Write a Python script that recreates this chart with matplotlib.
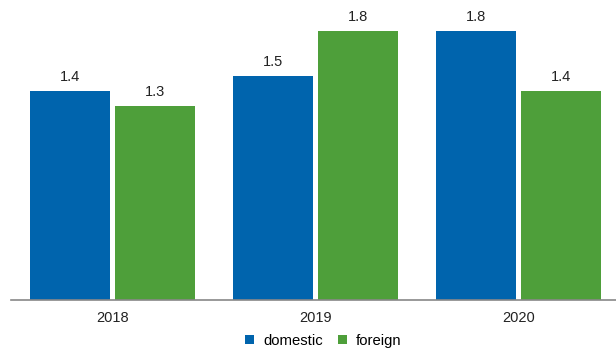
import matplotlib
matplotlib.use("Agg")
import matplotlib.pyplot as plt
import numpy as np

categories = ["2018", "2019", "2020"]
domestic = [1.4, 1.5, 1.8]
foreign = [1.3, 1.8, 1.4]

plt.rcParams['font.family'] = ['Liberation Sans', 'DejaVu Sans']

fig = plt.figure(figsize=(6.16, 3.49), dpi=100)
ax = fig.add_axes([11/616, 1 - 299.5/349, 609/616, 299.5/349])

x = np.arange(len(categories))
w = 0.394
off = 0.21
c_dom = "#0064AD"
c_for = "#4E9F3A"
b1 = ax.bar(x - off, domestic, w, color=c_dom, label="domestic")
b2 = ax.bar(x + off, foreign, w, color=c_for, label="foreign")
for bars, vals in ((b1, domestic), (b2, foreign)):
    for b, v in zip(bars, vals):
        ax.annotate(f"{v}", (b.get_x() + b.get_width()/2, v), xytext=(0, 5),
                    textcoords="offset points", ha="center", va="bottom",
                    fontsize=10.5, color="#222222")

ax.set_xlim(-0.5, 2.5)
ax.set_ylim(0, 2.01)
ax.set_xticks(x)
ax.set_xticklabels(categories, fontsize=10.5, color="#222222")
ax.tick_params(axis='x', length=0, pad=8)
ax.set_yticks([])
for s in ("top", "right", "left"):
    ax.spines[s].set_visible(False)
ax.spines["bottom"].set_color("#888888")
ax.spines["bottom"].set_linewidth(1.2)

fig.legend(handles=[b1, b2], labels=["domestic", "foreign"], loc="lower center",
           bbox_to_anchor=(0.525, -0.035), ncol=2, frameon=False, fontsize=10.7,
           handlelength=0.6, handleheight=0.6, handletextpad=0.6, columnspacing=1.0)

fig.savefig("out.png", dpi=100)
